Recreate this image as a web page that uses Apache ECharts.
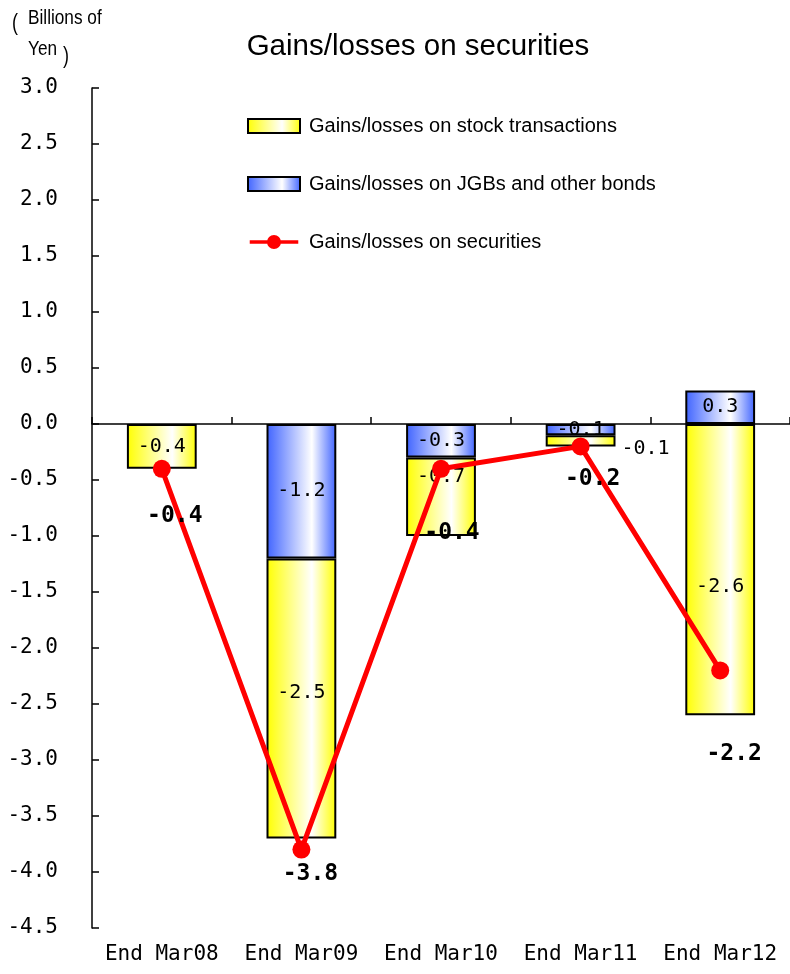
<!DOCTYPE html>
<html>
<head>
<meta charset="utf-8">
<script src="https://cdn.jsdelivr.net/npm/echarts@6/dist/echarts.min.js"></script>
<style>
  html, body { margin: 0; padding: 0; background: #fff; }
  #chart { width: 790px; height: 974px; }
</style>
</head>
<body>
<div id="chart"></div>
<script>
// Fiscal year-end dates
const categories = ['End Mar08', 'End Mar09', 'End Mar10', 'End Mar11', 'End Mar12'];
// Billions of yen
const stockGains = [-0.4, -2.5, -0.7, -0.1, -2.6];
const bondGains = [null, -1.2, -0.3, -0.1, 0.3];
const totalGains = [-0.4, -3.8, -0.4, -0.2, -2.2];
const yTicks = { min: -4.5, max: 3.0, step: 0.5 };

const seriesNames = {
  stock: 'Gains/losses on stock transactions',
  bond: 'Gains/losses on JGBs and other bonds',
  total: 'Gains/losses on securities'
};

const SANS = '"Liberation Sans", Arial, sans-serif';
const MONO = '"DejaVu Sans Mono", "Liberation Mono", monospace';

function hGradient(edge) {
  return new echarts.graphic.LinearGradient(0, 0, 1, 0, [
    { offset: 0, color: edge },
    { offset: 0.65, color: '#ffffff' },
    { offset: 1, color: edge }
  ]);
}
const yellowFill = hGradient('#ffff00');
const blueFill = hGradient('#3f63ff');

// hand-placed label nudges for the bar and line values
const stockLabelShift = [[0, 0], [0, -6], [0, -20], [0, 8], [0, 17]];
const totalLabelShift = [[13, 47], [9, 24], [11, 64], [12, 33], [14, 84]];

// legend glyph for the line series: a thick stroke with a dot in the middle
const lineLegendIcon =
  'path://M0,5 L20,5 L20,9 L0,9 Z M32,5 L52,5 L52,9 L32,9 Z ' +
  'M33.5,7 A7.5,7.5 0 1,1 18.5,7 A7.5,7.5 0 1,1 33.5,7 Z';

const barLabel = {
  show: true,
  position: 'inside',
  color: '#000',
  fontFamily: MONO,
  fontSize: 20,
  formatter: p => p.value.toFixed(1)
};

const chart = echarts.init(document.getElementById('chart'), null, { renderer: 'canvas' });

const unitStyle = { fontFamily: SANS, fontSize: 21, fill: '#000' };
const parenStyle = { fontFamily: SANS, fontSize: 24, fill: '#000' };

chart.setOption({
  animation: false,
  backgroundColor: '#ffffff',
  title: {
    text: 'Gains/losses on securities',
    left: 413,
    top: 27,
    textAlign: 'center',
    textStyle: { fontFamily: SANS, fontSize: 29.5, fontWeight: 'normal', color: '#000' }
  },
  legend: {
    orient: 'vertical',
    left: 247,
    top: 116,
    padding: 0,
    itemWidth: 52,
    itemHeight: 14,
    itemGap: 38,
    textStyle: { fontFamily: SANS, fontSize: 20, color: '#000', lineHeight: 20, padding: [0, 0, 0, 4] },
    data: [
      { name: seriesNames.stock, icon: 'rect', itemStyle: { color: yellowFill, borderColor: '#000', borderWidth: 2 } },
      { name: seriesNames.bond, icon: 'rect', itemStyle: { color: blueFill, borderColor: '#000', borderWidth: 2 } },
      { name: seriesNames.total, icon: lineLegendIcon, itemStyle: { color: '#ff0000', borderWidth: 0 } }
    ]
  },
  graphic: [
    { type: 'text', x: 12, y: 11, scaleX: 0.75, style: Object.assign({ text: '(' }, parenStyle) },
    { type: 'text', x: 28, y: 8, scaleX: 0.82, style: Object.assign({ text: 'Billions of' }, unitStyle) },
    { type: 'text', x: 28, y: 39, scaleX: 0.82, style: Object.assign({ text: 'Yen' }, unitStyle) },
    { type: 'text', x: 63, y: 44, scaleX: 0.75, style: Object.assign({ text: ')' }, parenStyle) }
  ],
  grid: { left: 92, right: -7, top: 88, bottom: 46, containLabel: false },
  xAxis: [
    {
      type: 'category',
      data: categories,
      position: 'bottom',
      axisLine: { show: false, onZero: false },
      axisTick: { show: false },
      axisLabel: { color: '#000', fontFamily: MONO, fontSize: 21, margin: 16, interval: 0, hideOverlap: false }
    },
    {
      type: 'category',
      data: categories,
      position: 'bottom',
      axisLine: { show: true, onZero: true, lineStyle: { color: '#000', width: 1.5 } },
      axisTick: { show: true, inside: true, length: 7, lineStyle: { color: '#000', width: 1.5 } },
      axisLabel: { show: false }
    }
  ],
  yAxis: {
    type: 'value',
    min: yTicks.min,
    max: yTicks.max,
    interval: yTicks.step,
    axisLine: { show: true, lineStyle: { color: '#000', width: 1.5 } },
    axisTick: { show: true, inside: true, length: 7, lineStyle: { color: '#000', width: 1.5 } },
    splitLine: { show: false },
    axisLabel: {
      color: '#000',
      fontFamily: MONO,
      fontSize: 21,
      margin: 34,
      formatter: v => v.toFixed(1)
    }
  },
  series: [
    {
      name: seriesNames.bond,
      type: 'bar',
      stack: 'gains',
      barWidth: '50%',
      xAxisIndex: 0,
      itemStyle: { color: blueFill, borderColor: '#000', borderWidth: 2 },
      label: barLabel,
      data: bondGains,
      z: 2
    },
    {
      name: seriesNames.stock,
      type: 'bar',
      stack: 'gains',
      barWidth: '50%',
      xAxisIndex: 0,
      itemStyle: { color: yellowFill, borderColor: '#000', borderWidth: 2 },
      data: stockGains.map((v, i) => ({
        value: v,
        label: Object.assign({}, barLabel, {
          position: i === 3 ? 'right' : 'inside',
          distance: 6,
          offset: stockLabelShift[i]
        })
      })),
      z: 2
    },
    {
      name: seriesNames.total,
      type: 'line',
      xAxisIndex: 0,
      symbol: 'circle',
      symbolSize: 18,
      itemStyle: { color: '#ff0000' },
      lineStyle: { color: '#ff0000', width: 5 },
      data: totalGains.map((v, i) => ({
        value: v,
        label: {
          show: true,
          position: 'inside',
          offset: totalLabelShift[i],
          color: '#000',
          fontFamily: MONO,
          fontWeight: 'bold',
          fontSize: 23,
          formatter: p => p.value.toFixed(1)
        }
      })),
      z: 5
    }
  ]
});
</script>
</body>
</html>
